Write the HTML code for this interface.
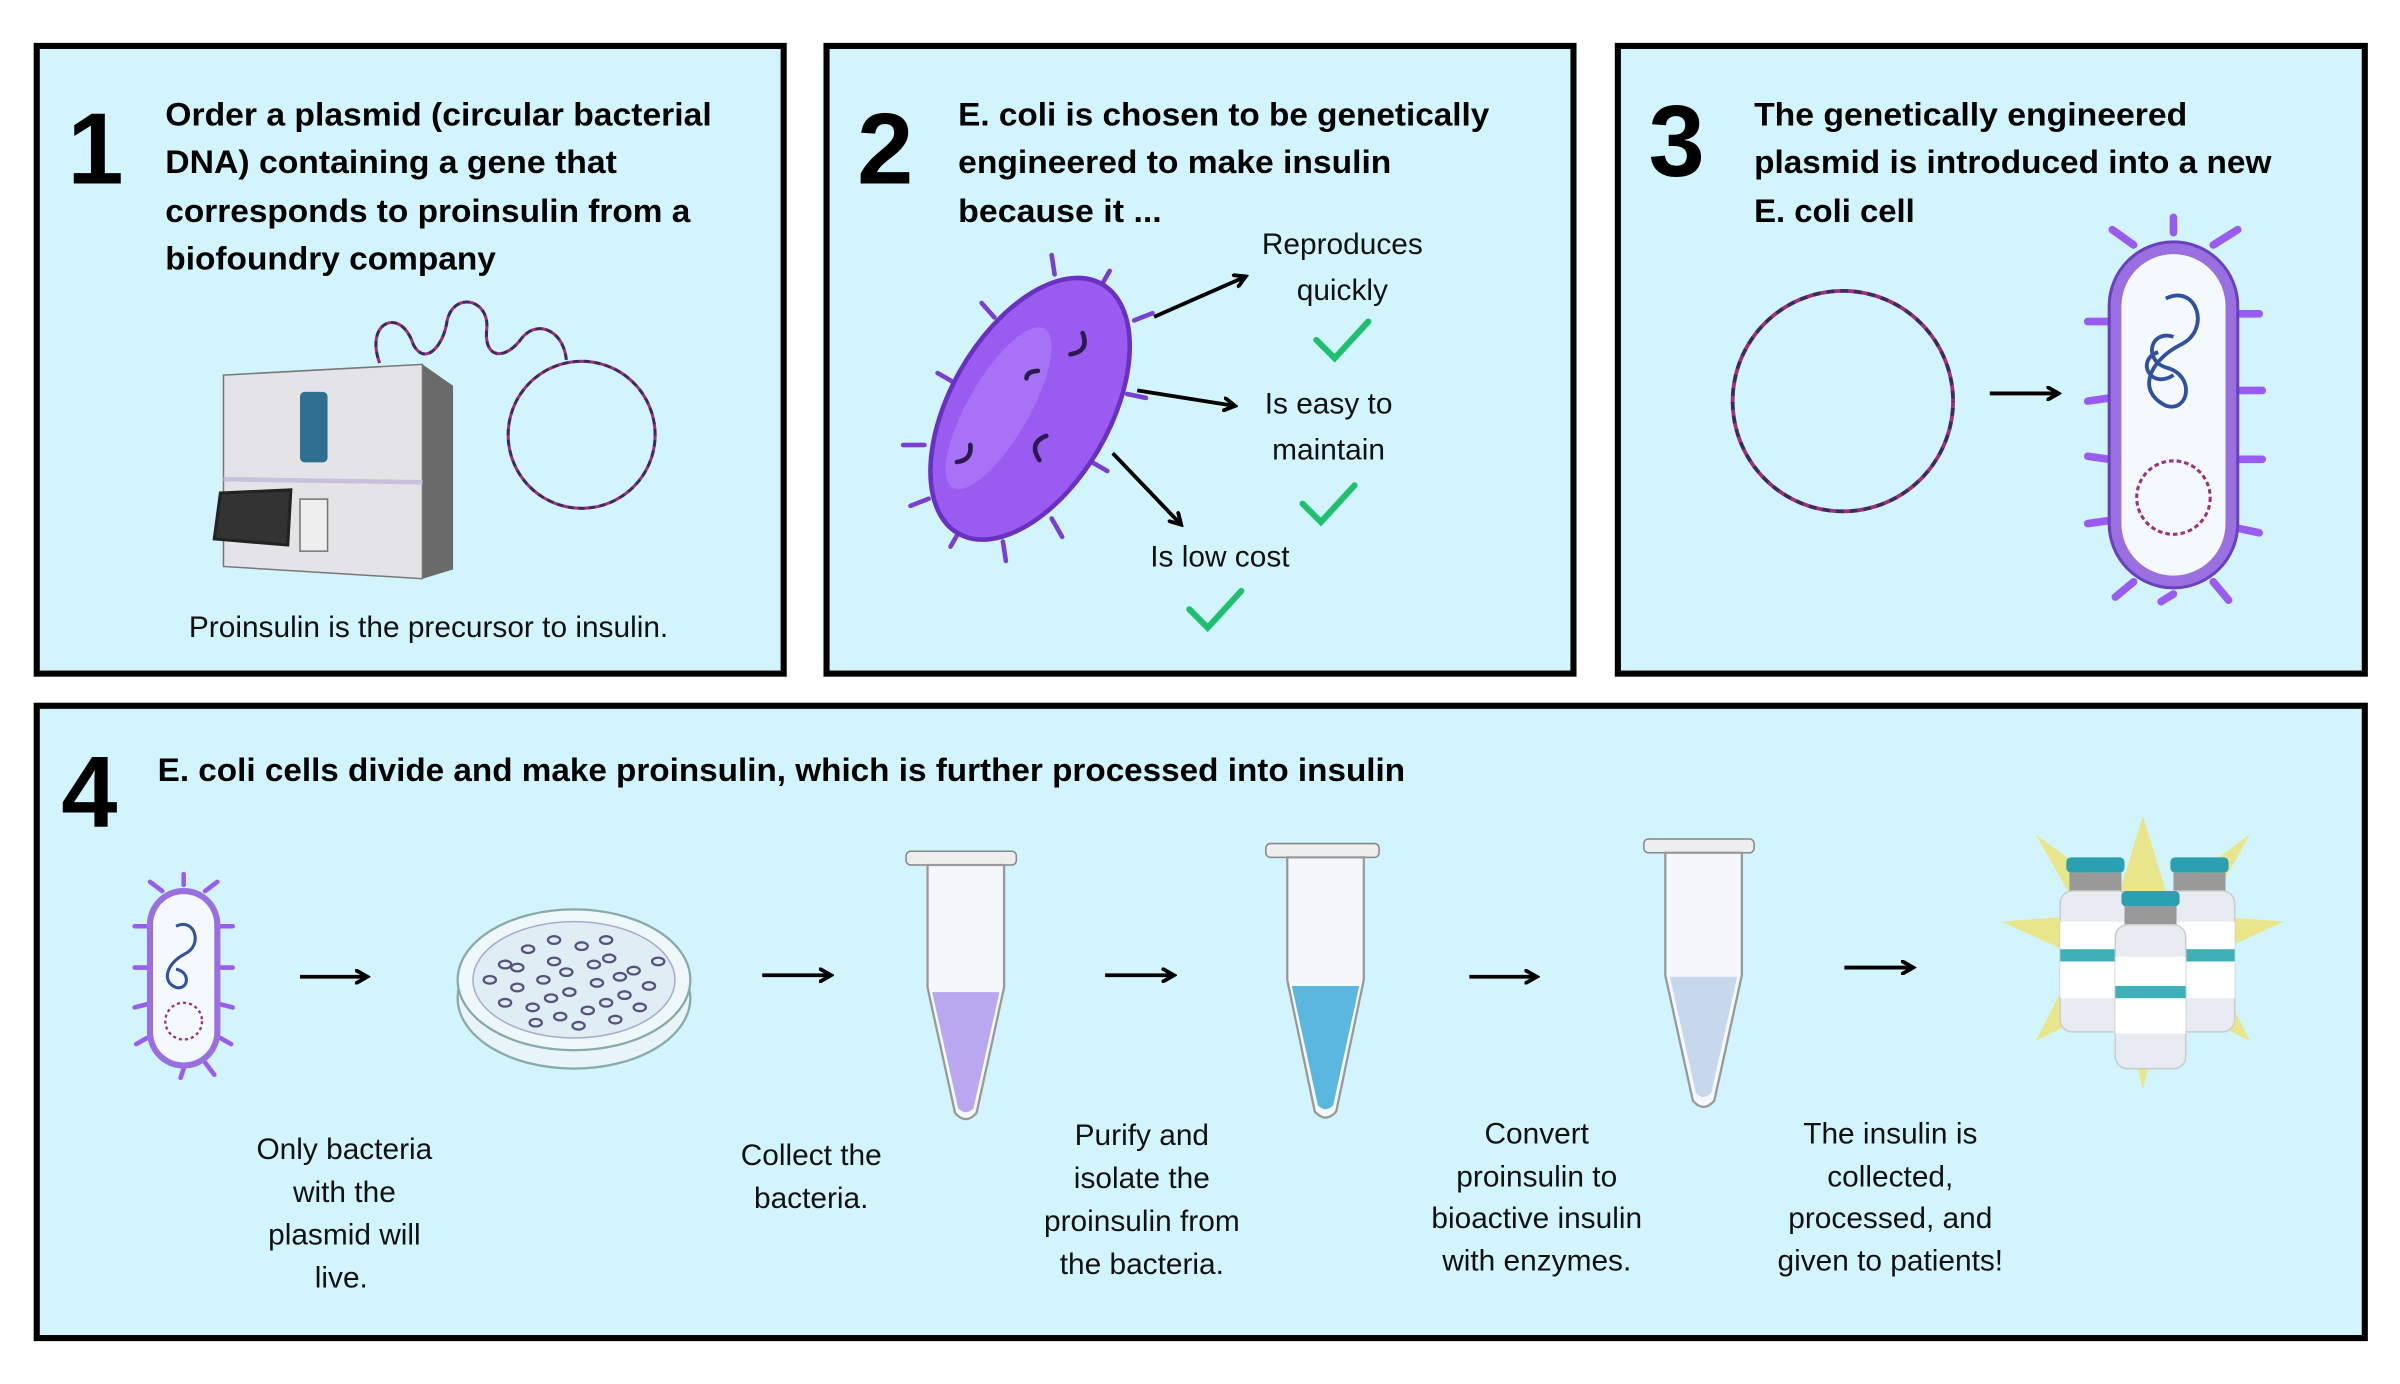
<!DOCTYPE html>
<html><head><meta charset="utf-8"><style>
html,body{margin:0;padding:0;background:#fff;}
svg{display:block;}
text{font-family:"Liberation Sans",sans-serif;}
.h{font-weight:bold;font-size:21px;fill:#000;}
.n{font-weight:bold;font-size:66px;fill:#000;}
.b{font-size:19.5px;fill:#111;}
</style></head><body>
<svg width="2400" height="1384" viewBox="0 0 1568 904" preserveAspectRatio="none" xmlns="http://www.w3.org/2000/svg">
<defs>
<marker id="ah" markerWidth="10" markerHeight="10" refX="7" refY="5" orient="auto" markerUnits="userSpaceOnUse"><path d="M1,1 L8,5 L1,9" fill="none" stroke="#000" stroke-width="2.5" stroke-linecap="round"/></marker>
</defs>
<rect width="1568" height="904" fill="#fff"/>
<g fill="#d2f4fc" stroke="#000" stroke-width="4">
<rect x="24" y="30" width="488" height="410"/>
<rect x="540" y="30" width="488" height="410"/>
<rect x="1057" y="30" width="488" height="410"/>
<rect x="24" y="461" width="1521" height="413"/>
</g>
<!-- Panel 1 -->
<text class="n" x="44" y="120">1</text>
<text class="h" x="108" y="82" textLength="357" lengthAdjust="spacingAndGlyphs">Order a plasmid (circular bacterial</text>
<text class="h" x="108" y="113" textLength="295" lengthAdjust="spacingAndGlyphs">DNA) containing a gene that</text>
<text class="h" x="108" y="145" textLength="343" lengthAdjust="spacingAndGlyphs">corresponds to proinsulin from a</text>
<text class="h" x="108" y="176" textLength="216" lengthAdjust="spacingAndGlyphs">biofoundry company</text>
<polygon points="146,245 276,238 296,252 296,372 276,378 146,370" fill="#6a6a6a"/>
<polygon points="146,245 276,238 276,378 146,370" fill="#e4e4e6" stroke="#777" stroke-width="1"/>
<line x1="146" y1="313" x2="276" y2="315" stroke="#c8c0dc" stroke-width="3"/>
<rect x="196" y="256" width="18" height="46" rx="3" fill="#2f6f8f"/>
<rect x="196" y="326" width="18" height="34" fill="#eee" stroke="#777" stroke-width="1"/>
<polygon points="144,322 190,320 188,356 140,352" fill="#333" stroke="#222" stroke-width="2"/>
<g fill="none" stroke-width="2" stroke-dasharray="4 3">
<circle cx="380" cy="284" r="48" stroke="#a0307a"/>
<circle cx="380" cy="284" r="48" stroke="#3a2a60" stroke-dashoffset="3.5"/>
<path d="M248,237 C238,210 262,200 270,225 C278,240 290,225 292,210 C296,190 320,195 318,215 C316,235 330,235 340,222 C350,208 368,215 370,235" stroke="#a0307a"/>
<path d="M248,237 C238,210 262,200 270,225 C278,240 290,225 292,210 C296,190 320,195 318,215 C316,235 330,235 340,222 C350,208 368,215 370,235" stroke="#3a2a60" stroke-dashoffset="3.5"/>
</g>
<text class="b" x="280" y="416" text-anchor="middle">Proinsulin is the precursor to insulin.</text>
<!-- Panel 2 -->
<text class="n" x="560" y="120">2</text>
<text class="h" x="626" y="82" textLength="347" lengthAdjust="spacingAndGlyphs">E. coli is chosen to be genetically</text>
<text class="h" x="626" y="113" textLength="283" lengthAdjust="spacingAndGlyphs">engineered to make insulin</text>
<text class="h" x="626" y="145" textLength="133" lengthAdjust="spacingAndGlyphs">because it ...</text>
<g transform="translate(673,267) rotate(30)">
<g stroke="#7a3fd0" stroke-width="3" stroke-linecap="round">
<line x1="0" y1="-92" x2="0" y2="-104"/><line x1="30" y1="-84" x2="38" y2="-94"/><line x1="-30" y1="-84" x2="-38" y2="-94"/>
<line x1="50" y1="-40" x2="62" y2="-44"/><line x1="52" y1="10" x2="64" y2="10"/><line x1="48" y1="55" x2="60" y2="62"/>
<line x1="-50" y1="-40" x2="-62" y2="-44"/><line x1="-52" y1="10" x2="-64" y2="10"/><line x1="-48" y1="55" x2="-60" y2="62"/>
<line x1="0" y1="92" x2="0" y2="104"/><line x1="28" y1="84" x2="36" y2="94"/><line x1="-28" y1="84" x2="-36" y2="94"/>
</g>
<ellipse cx="0" cy="0" rx="52" ry="94" fill="#9a5cf0" stroke="#6a30c0" stroke-width="3"/>
<ellipse cx="-18" cy="10" rx="20" ry="60" fill="#b080f8" opacity="0.6"/>
<g fill="none" stroke="#2a1a50" stroke-width="3" stroke-linecap="round">
<path d="M5,-60 q10,8 0,16"/><path d="M18,10 q-8,10 4,16"/><path d="M-22,40 q6,8 -2,14"/><path d="M-8,-24 q-6,4 -4,8"/></g>
</g>
<g stroke="#000" stroke-width="2.5" marker-end="url(#ah)">
<line x1="754" y1="207" x2="813" y2="181"/>
<line x1="743" y1="255" x2="806" y2="265"/>
<line x1="727" y1="296" x2="771" y2="342"/>
</g>
<text class="b" x="877" y="166" text-anchor="middle">Reproduces</text>
<text class="b" x="877" y="196" text-anchor="middle">quickly</text>
<text class="b" x="868" y="270" text-anchor="middle">Is easy to</text>
<text class="b" x="868" y="300" text-anchor="middle">maintain</text>
<text class="b" x="797" y="370" text-anchor="middle">Is low cost</text>
<g fill="none" stroke="#1fbf6f" stroke-width="4" stroke-linecap="round">
<path d="M860,222 l12,12 l22,-24"/><path d="M851,329 l12,12 l22,-24"/><path d="M777,398 l12,12 l22,-24"/>
</g>
<!-- Panel 3 -->
<text class="n" x="1077" y="115">3</text>
<text class="h" x="1146" y="82" textLength="283" lengthAdjust="spacingAndGlyphs">The genetically engineered</text>
<text class="h" x="1146" y="113" textLength="338" lengthAdjust="spacingAndGlyphs">plasmid is introduced into a new</text>
<text class="h" x="1146" y="145" textLength="105" lengthAdjust="spacingAndGlyphs">E. coli cell</text>
<g fill="none" stroke-width="2.5" stroke-dasharray="5 4">
<circle cx="1204" cy="262" r="72" stroke="#a0307a"/>
<circle cx="1204" cy="262" r="72" stroke="#3a2a60" stroke-dashoffset="4.5"/>
</g>
<line x1="1300" y1="257" x2="1344" y2="257" stroke="#000" stroke-width="2.5" marker-end="url(#ah)"/>
<g stroke="#9a5cf0" stroke-width="5" stroke-linecap="round">
<line x1="1420" y1="152" x2="1420" y2="142"/><line x1="1446" y1="160" x2="1462" y2="150"/><line x1="1394" y1="160" x2="1380" y2="150"/>
<line x1="1462" y1="205" x2="1476" y2="205"/><line x1="1462" y1="255" x2="1478" y2="255"/><line x1="1462" y1="300" x2="1478" y2="300"/><line x1="1462" y1="345" x2="1476" y2="348"/>
<line x1="1378" y1="210" x2="1364" y2="210"/><line x1="1378" y1="260" x2="1364" y2="262"/><line x1="1378" y1="300" x2="1364" y2="298"/><line x1="1378" y1="340" x2="1364" y2="342"/>
<line x1="1420" y1="388" x2="1412" y2="393"/><line x1="1446" y1="380" x2="1456" y2="392"/><line x1="1394" y1="380" x2="1382" y2="390"/>
</g>
<rect x="1378" y="158" width="84" height="226" rx="42" fill="#9a70e0" stroke="#6a40c0" stroke-width="2"/>
<rect x="1386" y="166" width="68" height="210" rx="34" fill="#f4f8ff"/>
<path d="M1415,195 c20,-10 30,20 10,30 c-20,10 -30,30 -10,40 c15,5 20,-20 0,-25 c-15,-5 -10,-25 5,-20 M1410,230 c-15,5 -5,25 10,15" fill="none" stroke="#3050a0" stroke-width="2.5"/>
<circle cx="1420" cy="325" r="24" fill="none" stroke="#a0307a" stroke-width="2" stroke-dasharray="3 2"/>
<!-- Panel 4 -->
<text class="n" x="40" y="540">4</text>
<text class="h" x="103" y="510" textLength="815" lengthAdjust="spacingAndGlyphs">E. coli cells divide and make proinsulin, which is further processed into insulin</text>
<g stroke="#9a5cf0" stroke-width="3" stroke-linecap="round">
<line x1="120" y1="578" x2="120" y2="571"/><line x1="134" y1="582" x2="142" y2="576"/><line x1="106" y1="582" x2="98" y2="576"/>
<line x1="144" y1="605" x2="152" y2="605"/><line x1="144" y1="632" x2="152" y2="632"/><line x1="144" y1="656" x2="152" y2="658"/><line x1="144" y1="678" x2="151" y2="682"/>
<line x1="96" y1="605" x2="88" y2="605"/><line x1="96" y1="632" x2="88" y2="632"/><line x1="96" y1="656" x2="88" y2="658"/><line x1="96" y1="678" x2="89" y2="682"/>
<line x1="120" y1="698" x2="118" y2="704"/><line x1="134" y1="694" x2="140" y2="702"/>
</g>
<rect x="96" y="580" width="48" height="118" rx="24" fill="#9a70e0"/>
<rect x="100" y="584" width="40" height="110" rx="20" fill="#f4f8ff"/>
<path d="M115,605 c12,-6 18,12 6,18 c-12,6 -16,18 -6,22 c8,2 10,-10 0,-12" fill="none" stroke="#3050a0" stroke-width="2"/>
<circle cx="120" cy="667" r="12" fill="none" stroke="#a0307a" stroke-width="1.5" stroke-dasharray="2 2"/>
<g stroke="#000" stroke-width="2.5" marker-end="url(#ah)">
<line x1="196" y1="638" x2="239" y2="638"/>
<line x1="498" y1="637" x2="542" y2="637"/>
<line x1="722" y1="637" x2="766" y2="637"/>
<line x1="960" y1="638" x2="1003" y2="638"/>
<line x1="1205" y1="632" x2="1249" y2="632"/>
</g>
<ellipse cx="375" cy="652" rx="76" ry="46" fill="#e8f4f8" stroke="#8aa" stroke-width="1.5"/>
<ellipse cx="375" cy="640" rx="76" ry="46" fill="#eef8fb" stroke="#8aa" stroke-width="1.5"/>
<ellipse cx="375" cy="640" rx="66" ry="38" fill="#dfeef5" stroke="#aac" stroke-width="1"/>
<g fill="none" stroke="#5a5080" stroke-width="1.5">
<ellipse cx="330" cy="630" rx="4" ry="2.5"/><ellipse cx="345" cy="620" rx="4" ry="2.5"/><ellipse cx="362" cy="628" rx="4" ry="2.5"/><ellipse cx="380" cy="618" rx="4" ry="2.5"/><ellipse cx="398" cy="626" rx="4" ry="2.5"/><ellipse cx="414" cy="634" rx="4" ry="2.5"/>
<ellipse cx="338" cy="645" rx="4" ry="2.5"/><ellipse cx="355" cy="640" rx="4" ry="2.5"/><ellipse cx="372" cy="648" rx="4" ry="2.5"/><ellipse cx="390" cy="642" rx="4" ry="2.5"/><ellipse cx="408" cy="650" rx="4" ry="2.5"/><ellipse cx="424" cy="644" rx="4" ry="2.5"/>
<ellipse cx="348" cy="658" rx="4" ry="2.5"/><ellipse cx="366" cy="664" rx="4" ry="2.5"/><ellipse cx="384" cy="660" rx="4" ry="2.5"/><ellipse cx="402" cy="666" rx="4" ry="2.5"/><ellipse cx="320" cy="640" rx="4" ry="2.5"/><ellipse cx="430" cy="628" rx="4" ry="2.5"/>
<ellipse cx="338" cy="632" rx="4" ry="2.5"/><ellipse cx="370" cy="635" rx="4" ry="2.5"/><ellipse cx="388" cy="630" rx="4" ry="2.5"/><ellipse cx="405" cy="638" rx="4" ry="2.5"/><ellipse cx="360" cy="652" rx="4" ry="2.5"/><ellipse cx="396" cy="655" rx="4" ry="2.5"/>
<ellipse cx="418" cy="658" rx="4" ry="2.5"/><ellipse cx="330" cy="655" rx="4" ry="2.5"/><ellipse cx="362" cy="614" rx="4" ry="2.5"/><ellipse cx="396" cy="614" rx="4" ry="2.5"/><ellipse cx="378" cy="670" rx="4" ry="2.5"/><ellipse cx="350" cy="668" rx="4" ry="2.5"/>
</g>
<g>
<rect x="592" y="556" width="72" height="9" rx="3" fill="#eee" stroke="#888"/>
<path d="M606,565 h50 v80 l-18,82 q-7,8 -14,0 l-18,-82 z" fill="#f4f8fa" stroke="#999" stroke-width="1.5"/>
<path d="M609,648 h44 l-17,76 q-5,5 -10,0 z" fill="#b9a8f0"/>
</g>
<g>
<rect x="827" y="551" width="74" height="9" rx="3" fill="#eee" stroke="#888"/>
<path d="M841,560 h50 v80 l-18,86 q-7,8 -14,0 l-18,-86 z" fill="#f4f8fa" stroke="#999" stroke-width="1.5"/>
<path d="M844,644 h44 l-17,78 q-5,5 -10,0 z" fill="#5ab8e0"/>
</g>
<g>
<rect x="1074" y="548" width="72" height="9" rx="3" fill="#eee" stroke="#888"/>
<path d="M1088,557 h50 v80 l-18,82 q-7,8 -14,0 l-18,-82 z" fill="#f4f8fa" stroke="#999" stroke-width="1.5"/>
<path d="M1091,638 h44 l-17,76 q-5,5 -10,0 z" fill="#c8d8ec"/>
</g>
<polygon points="1400,533 1416,585 1470,545 1440,598 1492,602 1442,625 1470,680 1414,652 1400,712 1386,652 1330,680 1358,625 1308,602 1360,598 1330,545 1384,585" fill="#e8e58a"/>
<g>
<rect x="1350" y="560" width="38" height="10" rx="3" fill="#2aa0b0"/><rect x="1352" y="570" width="34" height="12" fill="#999"/>
<rect x="1346" y="582" width="46" height="92" rx="8" fill="#e8ecf2" stroke="#ccc"/><rect x="1346" y="602" width="46" height="50" fill="#fff"/><rect x="1346" y="620" width="46" height="8" fill="#40b0b8"/>
<rect x="1418" y="560" width="38" height="10" rx="3" fill="#2aa0b0"/><rect x="1420" y="570" width="34" height="12" fill="#999"/>
<rect x="1414" y="582" width="46" height="92" rx="8" fill="#e8ecf2" stroke="#ccc"/><rect x="1414" y="602" width="46" height="50" fill="#fff"/><rect x="1414" y="620" width="46" height="8" fill="#40b0b8"/>
<rect x="1386" y="582" width="38" height="10" rx="3" fill="#2aa0b0"/><rect x="1388" y="592" width="34" height="12" fill="#999"/>
<rect x="1382" y="604" width="46" height="94" rx="8" fill="#e8ecf2" stroke="#ccc"/><rect x="1382" y="625" width="46" height="50" fill="#fff"/><rect x="1382" y="644" width="46" height="8" fill="#40b0b8"/>
</g>
<g class="b" text-anchor="middle">
<text x="225" y="757">Only bacteria</text><text x="225" y="785">with the</text><text x="225" y="813">plasmid will</text><text x="223" y="841">live.</text>
<text x="530" y="761">Collect the</text><text x="530" y="789">bacteria.</text>
<text x="746" y="748">Purify and</text><text x="746" y="776">isolate the</text><text x="746" y="804">proinsulin from</text><text x="746" y="832">the bacteria.</text>
<text x="1004" y="747">Convert</text><text x="1004" y="775">proinsulin to</text><text x="1004" y="802">bioactive insulin</text><text x="1004" y="830">with enzymes.</text>
<text x="1235" y="747">The insulin is</text><text x="1235" y="775">collected,</text><text x="1235" y="802">processed, and</text><text x="1235" y="830">given to patients!</text>
</g>
</svg>
</body></html>
